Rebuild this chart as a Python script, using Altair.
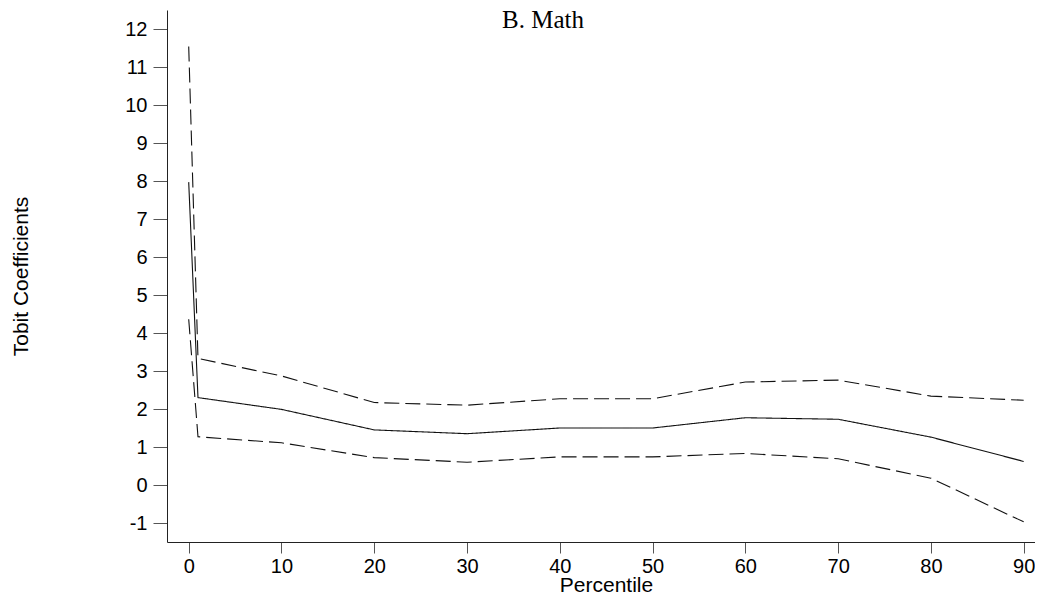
import altair as alt
import pandas as pd

# ---- data ----
percentiles = [0, 1, 10, 20, 30, 40, 50, 60, 70, 80, 90]
coef = [7.97, 2.30, 1.99, 1.45, 1.35, 1.50, 1.50, 1.77, 1.73, 1.26, 0.62]
upper = [11.54, 3.33, 2.87, 2.17, 2.10, 2.27, 2.27, 2.71, 2.76, 2.34, 2.23]
lower = [4.36, 1.27, 1.11, 0.72, 0.60, 0.74, 0.74, 0.83, 0.69, 0.18, -0.97]
series_names = ["Coefficient", "Upper bound", "Lower bound"]
series_styles = ["solid", "dashed", "dashed"]
x_ticks = [0, 10, 20, 30, 40, 50, 60, 70, 80, 90]
y_ticks = list(range(-1, 13))
panel_title = ["B. Math"]

rows = []
for name, style, vals in zip(series_names, series_styles, [coef, upper, lower]):
    for p, v in zip(percentiles, vals):
        rows.append({"percentile": p, "value": v, "series": name, "style": style})
df = pd.DataFrame(rows)

FONT = "Liberation Sans"

lines = (
    alt.Chart(df)
    .mark_line(color="#111111", strokeWidth=1.1)
    .encode(
        x=alt.X(
            "percentile:Q",
            scale=alt.Scale(domain=[-2.34, 91.22], nice=False, zero=False),
            axis=alt.Axis(
                values=x_ticks,
                title="Percentile",
                grid=False,
                tickSize=11,
                labelPadding=19,
                labelBaseline="alphabetic",
                labelFontSize=20,
                labelFont=FONT,
                labelColor="#000000",
                titleFont=FONT,
                titleFontSize=21,
                titleFontWeight="normal",
                titleColor="#000000",
                titleX=439,
                titleY=49,
                titleBaseline="alphabetic",
                titleAlign="center",
                domainColor="#222222",
                tickColor="#555555",
                labelFlush=False,
                labelOverlap=False,
            ),
        ),
        y=alt.Y(
            "value:Q",
            scale=alt.Scale(domain=[-1.5, 12.5], nice=False, zero=False),
            axis=alt.Axis(
                values=y_ticks,
                title="Tobit Coefficients",
                labelExpr="replace(datum.label, '\u2212', '-')",
                grid=False,
                tickSize=14,
                labelPadding=6,
                labelFontSize=20,
                labelFont=FONT,
                labelColor="#000000",
                titleFont=FONT,
                titleFontSize=21,
                titleFontWeight="normal",
                titleColor="#000000",
                titleAngle=-90,
                titleX=-140,
                titleY=266,
                titleAlign="center",
                titleBaseline="alphabetic",
                domainColor="#222222",
                tickColor="#555555",
                labelFlush=False,
                labelOverlap=False,
            ),
        ),
        strokeDash=alt.StrokeDash(
            "style:N",
            scale=alt.Scale(domain=["solid", "dashed"], range=[[1, 0], [15, 6]]),
            legend=None,
        ),
        detail="series:N",
    )
)

title_text = (
    alt.Chart(pd.DataFrame({"t": panel_title}))
    .mark_text(
        font="Liberation Serif",
        fontSize=25,
        color="#000000",
        align="left",
        baseline="alphabetic",
    )
    .encode(text="t:N", x=alt.value(335), y=alt.value(18))
)

chart = (
    alt.layer(lines, title_text)
    .properties(
        width=868,
        height=532,
        padding={"left": 159, "top": 2, "right": 0, "bottom": 58},
        autosize=alt.AutoSizeParams(type="none"),
    )
    .configure_view(stroke=None)
)

chart.save("out.html", embed_options={"renderer": "svg", "actions": False})
